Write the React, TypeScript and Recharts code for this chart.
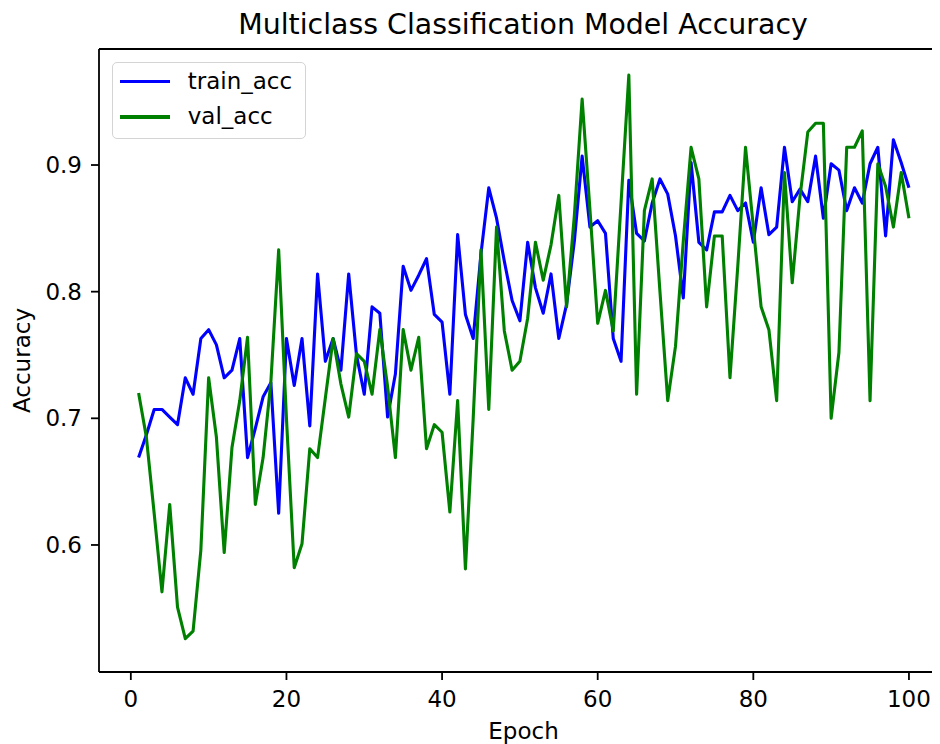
import React from 'react';
import { LineChart, Line, XAxis, YAxis, Legend, ReferenceLine } from 'recharts';

const epochs = Array.from({ length: 100 }, (_, i) => i + 1);

const trainAcc = [
  0.669, 0.687, 0.707, 0.707, 0.701, 0.695, 0.732, 0.719, 0.763, 0.770,
  0.758, 0.732, 0.738, 0.763, 0.669, 0.692, 0.717, 0.728, 0.625, 0.763,
  0.726, 0.763, 0.694, 0.814, 0.745, 0.763, 0.738, 0.814, 0.750, 0.719,
  0.788, 0.783, 0.701, 0.735, 0.820, 0.801, 0.813, 0.826, 0.782, 0.776,
  0.719, 0.845, 0.782, 0.763, 0.830, 0.882, 0.858, 0.824, 0.793, 0.777,
  0.839, 0.803, 0.783, 0.814, 0.763, 0.790, 0.840, 0.907, 0.851, 0.856,
  0.846, 0.763, 0.745, 0.888, 0.846, 0.840, 0.870, 0.889, 0.877, 0.844,
  0.795, 0.902, 0.839, 0.833, 0.863, 0.863, 0.876, 0.864, 0.870, 0.839,
  0.882, 0.845, 0.851, 0.914, 0.871, 0.881, 0.871, 0.907, 0.858, 0.901,
  0.896, 0.864, 0.882, 0.870, 0.901, 0.914, 0.844, 0.920, 0.902, 0.882,
];

const valAcc = [
  0.720, 0.685, 0.625, 0.563, 0.632, 0.551, 0.526, 0.532, 0.596, 0.732,
  0.685, 0.594, 0.677, 0.714, 0.764, 0.632, 0.669, 0.729, 0.833, 0.700,
  0.582, 0.601, 0.676, 0.669, 0.716, 0.763, 0.727, 0.701, 0.751, 0.745,
  0.719, 0.770, 0.725, 0.669, 0.770, 0.738, 0.764, 0.676, 0.695, 0.689,
  0.626, 0.714, 0.581, 0.700, 0.833, 0.707, 0.851, 0.769, 0.738, 0.745,
  0.779, 0.839, 0.809, 0.837, 0.876, 0.788, 0.860, 0.952, 0.865, 0.775,
  0.801, 0.769, 0.870, 0.971, 0.719, 0.864, 0.889, 0.800, 0.714, 0.757,
  0.840, 0.914, 0.889, 0.788, 0.844, 0.844, 0.732, 0.820, 0.914, 0.851,
  0.788, 0.770, 0.714, 0.894, 0.807, 0.875, 0.926, 0.933, 0.933, 0.700,
  0.752, 0.914, 0.914, 0.927, 0.714, 0.901, 0.883, 0.851, 0.894, 0.858,
];

const xTicks = [0, 20, 40, 60, 80, 100];
const yTicks = [0.6, 0.7, 0.8, 0.9];
const xDomain = [-4.09, 103.99];
const yDomain = [0.4997, 0.9916];

const title = 'Multiclass Classification Model Accuracy';
const xLabel = 'Epoch';
const yLabel = 'Accuracy';

const data = epochs.map((e, i) => ({ epoch: e, train_acc: trainAcc[i], val_acc: valAcc[i] }));

const FONT = "'DejaVu Sans', sans-serif";

const renderLegend = (props: any) => {
  const payload = props.payload || [];
  return (
    <div
      style={{
        position: 'relative',
        width: 194,
        height: 77,
        boxSizing: 'border-box',
        border: '1.5px solid #d4d4d4',
        borderRadius: 5,
        background: 'rgba(255,255,255,0.8)',
        fontFamily: FONT,
        fontSize: 23,
        color: '#000',
      }}
    >
      {payload.map((entry: any, i: number) => (
        <React.Fragment key={entry.value}>
          <div
            style={{
              position: 'absolute',
              left: 7,
              top: 17.5 + i * 35.3,
              width: 50,
              height: 3.3,
              background: entry.color,
            }}
          />
          <div
            style={{
              position: 'absolute',
              left: 75,
              top: 5.5 + i * 35.3,
              lineHeight: '27px',
              whiteSpace: 'nowrap',
            }}
          >
            {entry.value}
          </div>
        </React.Fragment>
      ))}
    </div>
  );
};

export default function App() {
  return (
    <div style={{ position: 'relative', width: 932, height: 736, fontFamily: FONT }}>
      <div
        style={{
          position: 'absolute',
          left: 515,
          top: 0.5,
          transform: 'translateX(-50%)',
          whiteSpace: 'nowrap',
          fontSize: 28.4,
          lineHeight: '32px',
          color: '#000',
          zIndex: 2,
        }}
      >
        {title}
      </div>
      <LineChart
        width={932}
        height={736}
        data={data}
        margin={{ top: 41, right: 0, left: 0, bottom: 0 }}
        style={{ fontFamily: FONT }}
      >
        <XAxis
          dataKey="epoch"
          type="number"
          domain={xDomain}
          ticks={xTicks}
          interval={0}
          allowDataOverflow
          height={72}
          tickSize={8}
          tickMargin={11}
          axisLine={{ stroke: '#000', strokeWidth: 1.8 }}
          tickLine={{ stroke: '#000', strokeWidth: 1.8 }}
          tick={{ fill: '#000', fontSize: 23 }}
          label={{ value: xLabel, position: 'insideBottom', offset: 5.5, dx: 4, fill: '#000', fontSize: 23 }}
        />
        <YAxis
          type="number"
          domain={yDomain}
          ticks={yTicks}
          interval={0}
          allowDataOverflow
          width={91}
          tickSize={8}
          tickMargin={9}
          tickFormatter={(v: number) => v.toFixed(1)}
          axisLine={{ stroke: '#000', strokeWidth: 1.8 }}
          tickLine={{ stroke: '#000', strokeWidth: 1.8 }}
          tick={{ fill: '#000', fontSize: 23 }}
          label={{
            value: yLabel,
            angle: -90,
            position: 'insideLeft',
            offset: 13.5,
            fill: '#000',
            fontSize: 23,
            style: { textAnchor: 'middle' },
          }}
        />
        <ReferenceLine y={yDomain[1]} stroke="#000" strokeWidth={1.8} ifOverflow="visible" />
        <Legend
          layout="vertical"
          align="center"
          verticalAlign="middle"
          content={renderLegend}
          wrapperStyle={{ left: 103.7, top: 53.7, width: 194, height: 77 }}
        />
        <Line
          type="linear"
          dataKey="train_acc"
          name="train_acc"
          stroke="#0000ff"
          strokeWidth={3.1}
          strokeLinejoin="round"
          dot={false}
          activeDot={false}
          isAnimationActive={false}
        />
        <Line
          type="linear"
          dataKey="val_acc"
          name="val_acc"
          stroke="#008000"
          strokeWidth={3.1}
          strokeLinejoin="round"
          dot={false}
          activeDot={false}
          isAnimationActive={false}
        />
      </LineChart>
    </div>
  );
}
